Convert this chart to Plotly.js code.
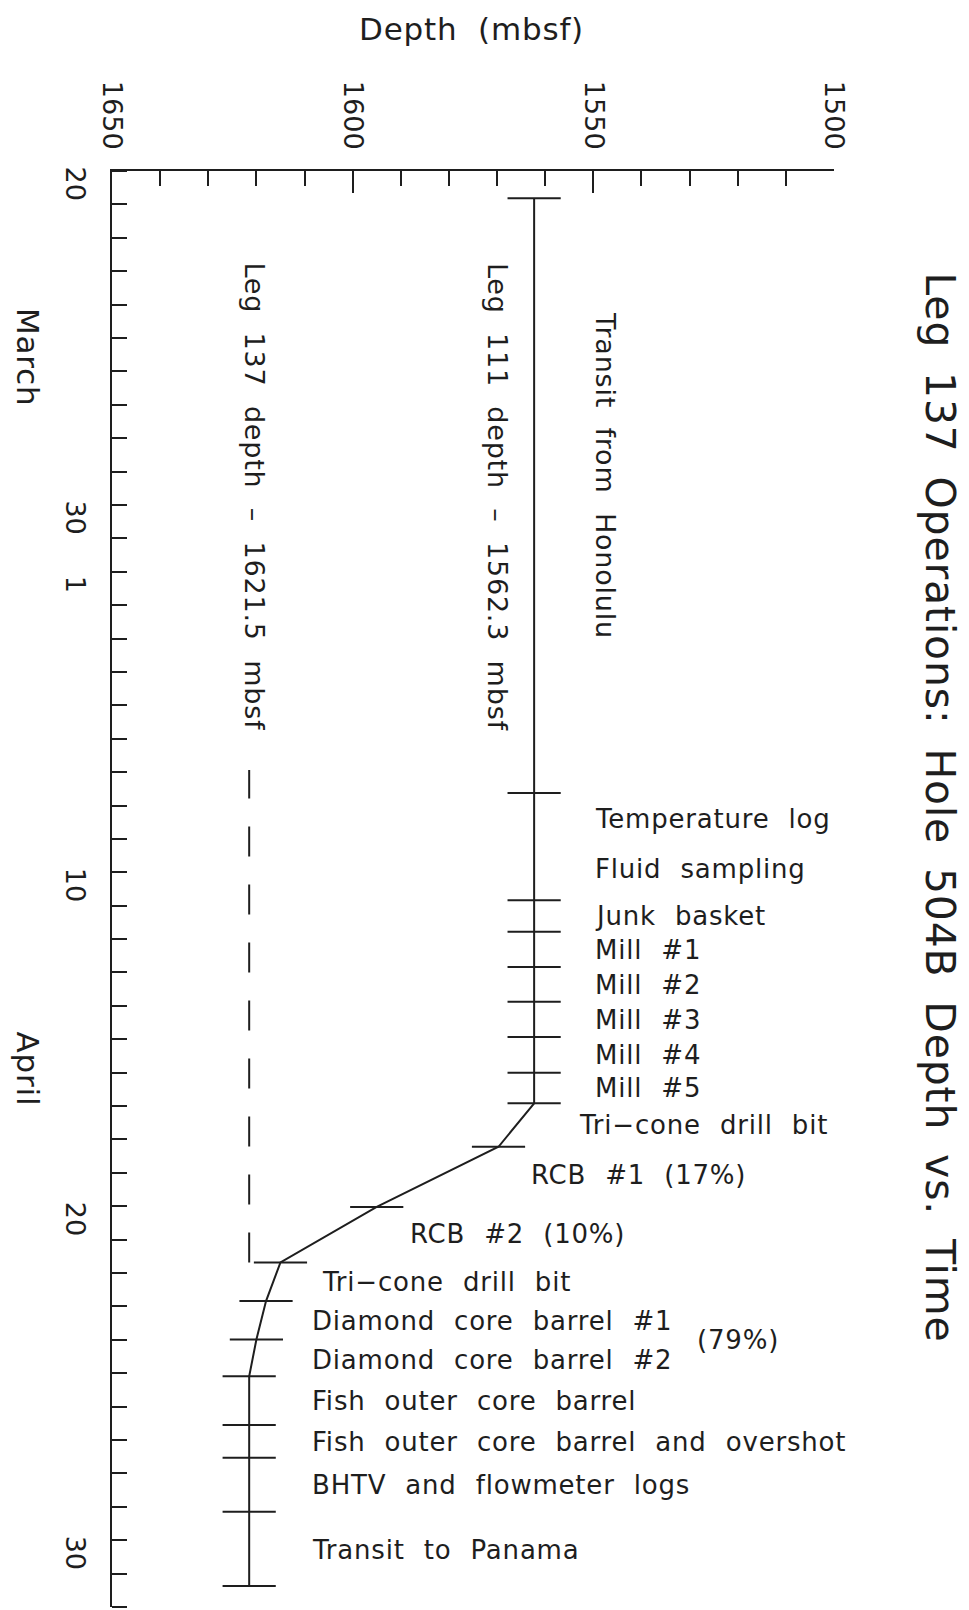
<!DOCTYPE html>
<html><head><meta charset="utf-8">
<script src="https://cdn.plot.ly/plotly-3.0.1.min.js"></script>
<style>
html,body{margin:0;padding:0;background:#fff;}
#chart{width:969px;height:1610px;}
.annotation-text{letter-spacing:0.8px;word-spacing:10px;}
</style></head><body><div id="chart"></div>
<script>
// ---- data ----
// hole depth (mbsf) at each operation boundary (each boundary is marked with a crossbar)
const pathTime = ['1991-03-20 19:30','1991-04-07 15:00','1991-04-10 20:00','1991-04-11 18:45',
  '1991-04-12 20:00','1991-04-13 21:00','1991-04-14 22:20','1991-04-16 00:00','1991-04-16 22:00',
  '1991-04-18 05:15','1991-04-20 00:30','1991-04-21 16:20','1991-04-22 20:10','1991-04-23 23:45',
  '1991-04-25 02:10','1991-04-26 13:10','1991-04-27 12:45','1991-04-29 03:35','1991-05-01 08:50'];
const pathDepth = [1562.3,1562.3,1562.3,1562.3,1562.3,1562.3,1562.3,1562.3,1562.3,
  1569.7,1595.0,1615.0,1618.0,1620.0,1621.5,1621.5,1621.5,1621.5,1621.5];

// Leg 137 final depth reference (dashed)
const leg137Depth = 1621.5;
const leg137LineTime = ['1991-04-21 16:20','1991-04-06 22:30'];

// operation labels and the time each label sits at
const eventLabels = ['Temperature log','Fluid sampling','Junk basket','Mill #1','Mill #2','Mill #3',
  'Mill #4','Mill #5','Tri\u2212cone drill bit','RCB #1 (17%)','RCB #2 (10%)','Tri\u2212cone drill bit',
  'Diamond core barrel #1','Diamond core barrel #2','(79%)','Fish outer core barrel',
  'Fish outer core barrel and overshot','BHTV and flowmeter logs','Transit to Panama'];
const eventLabelTime = ['1991-04-08 09:50','1991-04-09 21:35','1991-04-11 07:25','1991-04-12 07:55',
  '1991-04-13 09:05','1991-04-14 10:20','1991-04-15 11:30','1991-04-16 11:15','1991-04-17 13:40',
  '1991-04-19 01:40','1991-04-20 20:10','1991-04-22 06:30','1991-04-23 10:35','1991-04-24 14:40',
  '1991-04-24 00:15','1991-04-25 20:10','1991-04-27 01:40','1991-04-28 08:40','1991-04-30 07:10'];

const refLabels = ['Transit from Honolulu','Leg 111 depth \u2013 1562.3 mbsf','Leg 137 depth \u2013 1621.5 mbsf'];

// time axis labels
const dayTickTime = ['1991-03-20 12:00','1991-03-30 12:00','1991-04-01 12:00','1991-04-10 12:00','1991-04-20 12:00','1991-04-30 12:00'];
const dayTickText = ['20','30','1','10','20','30'];
const monthLabels = ['March','April'];

// ---- layout helpers (positions only) ----
const FONT = 'DejaVu Sans';
const INK = '#1e1e1e';
const labelAnchorDepth = [1550,1550,1550,1550,1550,1550,1550,1550,1553.4,1563.4,1588.5,1606.7,
  1608.8,1608.8,1528.9,1608.8,1608.8,1608.8,1608.8];
const refLabelPos = [[1547.6,'1991-03-29 03:10'],[1570.0,'1991-03-29 18:15'],[1620.4,'1991-03-29 18:15']];
const monthLabelTime = ['1991-03-25 14:10','1991-04-15 21:35'];

const traces = [
  { x: pathDepth, y: pathTime, type: 'scatter', mode: 'lines+markers',
    line: {color: INK, width: 2},
    marker: {symbol: 'line-ew', size: 38, color: INK, line: {color: INK, width: 2}},
    hoverinfo: 'skip', showlegend: false },
  { x: [leg137Depth, leg137Depth], y: leg137LineTime, type: 'scatter', mode: 'lines',
    line: {color: INK, width: 2, dash: '30px,28px'}, hoverinfo: 'skip', showlegend: false }
];

const annotations = [];
eventLabels.forEach((t, i) => annotations.push({
  text: t, x: labelAnchorDepth[i], y: eventLabelTime[i], xref: 'x', yref: 'y',
  xanchor: 'left', yanchor: 'middle', showarrow: false,
  font: {family: FONT, size: 26, color: INK}
}));
refLabels.forEach((t, i) => annotations.push({
  text: t, x: refLabelPos[i][0], y: refLabelPos[i][1], xref: 'x', yref: 'y',
  xanchor: 'center', yanchor: 'middle', textangle: 90, showarrow: false,
  font: {family: FONT, size: 27, color: INK}
}));
monthLabels.forEach((t, i) => annotations.push({
  text: t, x: -0.1166, y: monthLabelTime[i], xref: 'paper', yref: 'y',
  xanchor: 'center', yanchor: 'middle', textangle: 90, showarrow: false,
  font: {family: FONT, size: 31, color: INK}
}));
annotations.push({
  text: 'Leg 137 Operations: Hole 504B Depth vs. Time', x: 1.1468, y: 0.5568,
  xref: 'paper', yref: 'paper', xanchor: 'center', yanchor: 'middle', textangle: 90,
  showarrow: false, font: {family: FONT, size: 41, color: INK}
});
annotations.push({
  text: 'Depth (mbsf)', x: 0.4974, y: 1.0989, xref: 'paper', yref: 'paper',
  xanchor: 'center', yanchor: 'middle', showarrow: false,
  font: {family: FONT, size: 31, color: INK}
});

const layout = {
  width: 969, height: 1610,
  margin: {l: 112, r: 135, t: 171, b: 3},
  paper_bgcolor: '#fff', plot_bgcolor: '#fff',
  showlegend: false,
  xaxis: {
    side: 'top', range: [1650, 1500], autorange: false,
    showline: true, linecolor: INK, linewidth: 2, mirror: false,
    showgrid: false, zeroline: false,
    ticks: 'inside', tick0: 1500, dtick: 50, ticklen: 22, tickwidth: 2, tickcolor: INK,
    minor: {ticks: 'inside', dtick: 10, tick0: 1500, ticklen: 15, tickwidth: 2, tickcolor: INK, showgrid: false},
    tickangle: 90, ticklabelstandoff: 10, tickfont: {family: FONT, size: 27, color: INK}
  },
  yaxis: {
    type: 'date', range: ['1991-05-02 00:00', '1991-03-20 00:00'], autorange: false,
    showline: true, linecolor: INK, linewidth: 2, mirror: false,
    showgrid: false, zeroline: false,
    tickmode: 'array', tickvals: dayTickTime, ticktext: dayTickText,
    ticks: '', tickangle: 90, ticklabelstandoff: 12, tickfont: {family: FONT, size: 27, color: INK},
    minor: {ticks: 'inside', tickmode: 'linear', tick0: '1991-03-20', dtick: 86400000,
            ticklen: 15, tickwidth: 2, tickcolor: INK, showgrid: false}
  },
  annotations: annotations
};

Plotly.newPlot('chart', traces, layout, {displayModeBar: false, staticPlot: true});
</script></body></html>
